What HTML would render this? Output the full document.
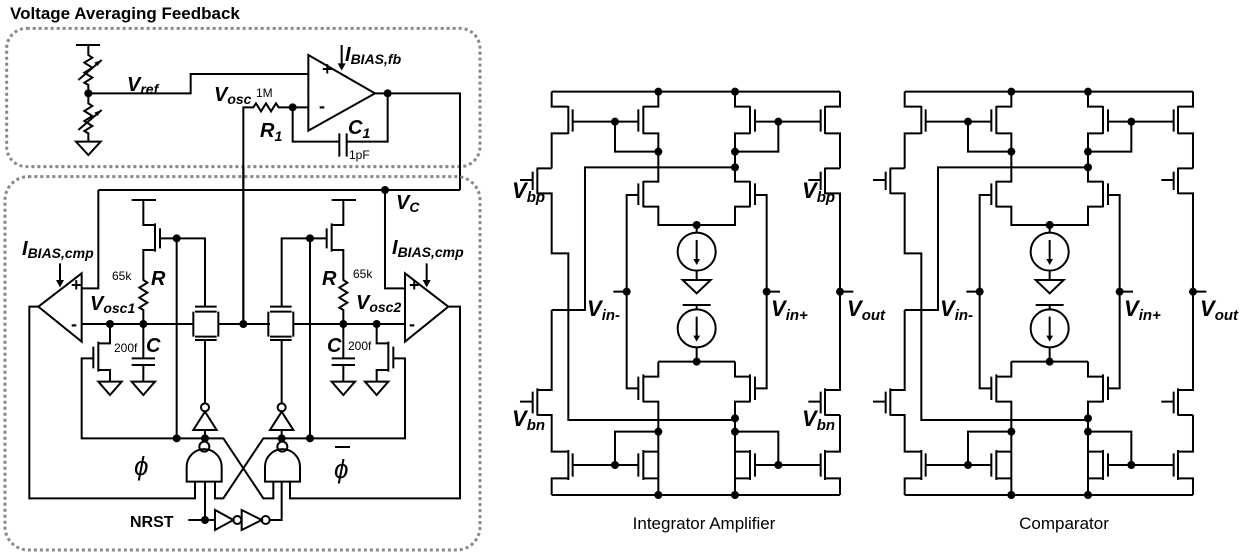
<!DOCTYPE html>
<html><head><meta charset="utf-8"><style>
html,body{margin:0;padding:0;background:#fff;}
svg{display:block}
text{font-family:"Liberation Sans",sans-serif;fill:#000}
.v{font-weight:bold;font-style:italic}
</style></head><body>
<svg width="1249" height="557" viewBox="0 0 1249 557" xmlns="http://www.w3.org/2000/svg">
<defs>
<g id="amp" fill="none" stroke="#000" stroke-width="6">
  <!-- rails -->
  <path d="M155,35 H1020 M155,1245 H1020"/>
  <!-- top PMOS -->
  <path d="M155,35 V80 H205 M205,78 V162 M218,88 V155 M218,125 H415 M205,160 H155 V265"/>
  <path d="M475,35 V80 H430 M430,78 V162 M415,88 V155 M430,160 H475 V305 H430"/>
  <path d="M345,125 V215 H475"/>
  <path d="M705,35 V80 H750 M750,78 V162 M765,88 V155 M765,125 H962 M750,160 H705 V305 H750"/>
  <path d="M1020,35 V80 H975 M975,78 V162 M962,88 V155 M975,160 H1020 V265"/>
  <path d="M835,125 V215 H705"/>
  <path d="M705,262 H255 V690 H155"/>
  <!-- Vbp PMOS -->
  <path d="M155,265 H112 M112,263 V342 M98,275 V330 M60,300 H98 M112,340 H155 V520 H205 V1020 H705"/>
  <path d="M1020,265 H975 M975,263 V342 M962,275 V330 M925,300 H962 M975,340 H1020 V930 H975"/>
  <!-- input PMOS pair -->
  <path d="M430,303 V382 M415,310 V375 M415,345 H380 V925 H415 M430,380 H475 V435 H705 V380 H750 M750,303 V382 M765,310 V375 M765,345 H800 V925 H765"/>
  <path d="M590,435 V458 M590,572 V600 M548,600 H632 L590,640 Z M548,675 H632 M590,675 V688 M590,802 V845"/>
  <circle cx="590" cy="515" r="57"/><circle cx="590" cy="745" r="57"/>
  <path d="M590,480 V550 M590,710 V780"/>
  <!-- input NMOS pair -->
  <path d="M475,845 H705 M475,845 V890 H430 M430,883 V967 M415,890 V960 M430,965 H475 V1245 M705,845 V890 H750 M750,883 V967 M765,890 V960 M750,965 H705 V1245"/>
  <!-- Vbn NMOS -->
  <path d="M155,690 V930 H112 M112,925 V1007 M98,935 V1000 M60,965 H98 M112,1005 H155 V1115 H205"/>
  <path d="M1020,1005 H975 M975,925 V1007 M962,935 V1000 M925,965 H962 M1020,1005 V1115 H975"/>
  <!-- bottom NMOS -->
  <path d="M205,1110 V1200 M218,1120 V1190 M218,1155 H415 M415,1120 V1190 M430,1110 V1200 M475,1055 H345 V1155 M475,1115 H430 M430,1195 H475 M205,1195 H155 V1245"/>
  <path d="M975,1110 V1200 M962,1120 V1190 M962,1155 H765 M765,1120 V1190 M750,1110 V1200 M705,1055 H835 V1155 M705,1115 H750 M750,1195 H705 M975,1195 H1020 V1245"/>
  <path d="M340,635 H380 M800,635 H840 M1020,635 H1060"/>
  <g fill="#000" stroke="none">
    <circle cx="475" cy="35" r="12"/><circle cx="705" cy="35" r="12"/>
    <circle cx="345" cy="125" r="12"/><circle cx="835" cy="125" r="12"/>
    <circle cx="475" cy="215" r="12"/><circle cx="705" cy="215" r="12"/><circle cx="705" cy="262" r="12"/>
    <circle cx="590" cy="435" r="12"/><circle cx="590" cy="845" r="12"/>
    <circle cx="380" cy="635" r="12"/><circle cx="800" cy="635" r="12"/><circle cx="1020" cy="635" r="12"/>
    <circle cx="705" cy="1015" r="12"/><circle cx="475" cy="1055" r="12"/><circle cx="705" cy="1055" r="12"/>
    <circle cx="345" cy="1155" r="12"/><circle cx="835" cy="1155" r="12"/>
    <circle cx="475" cy="1245" r="12"/><circle cx="705" cy="1245" r="12"/>
    <path d="M590,555 l-10,-18 h20 Z M590,785 l-10,-18 h20 Z"/>
  </g>
</g>
</defs>

<text x="10" y="19" font-size="17" font-weight="bold">Voltage Averaging Feedback</text>

<!-- top feedback section (zoom3 coords) -->
<g transform="scale(0.33333)" fill="none" stroke="#000" stroke-width="6">
  <rect x="20" y="85" width="1420" height="415" rx="60" stroke="#888" stroke-width="9" stroke-dasharray="9,9"/>
  <path d="M228,135 H300 M265,135 V165 l12,8 l-24,15 l24,15 l-24,15 l24,15 l-24,15 l12,7 V310 l12,8 l-24,15 l24,15 l-24,15 l24,15 l-24,15 l12,7 V425"/>
  <path d="M228,425 H302 L265,465 Z"/>
  <path d="M235,240 L305,180 M235,390 L305,330"/>
  <path d="M265,280 H572 V222 H925"/>
  <path d="M925,165 L1125,280 L925,392 Z"/>
  <path d="M1125,280 H1380 V570 M1163,280 V425 H1040 M1040,400 V470 M1018,400 V470 M1018,425 H878 V322 H925"/>
  <path d="M878,322 H836 l-8,-12 l-15,24 l-15,-24 l-15,24 l-15,-24 l-8,12 H730 V980"/>
  <path d="M1025,135 V200"/>
  <g fill="#000" stroke="none">
    <circle cx="265" cy="280" r="12"/><circle cx="878" cy="322" r="12"/><circle cx="1163" cy="280" r="12"/>
    <path d="M1025,212 l-12,-22 h24 Z M305,180 l-22,8 l10,10 Z M305,330 l-22,8 l10,10 Z"/>
  </g>
</g>
<text x="322" y="75" font-size="18" font-weight="bold">+</text>
<text x="319" y="112" font-size="18" font-weight="bold">-</text>
<text x="127" y="91" font-size="20" class="v">V<tspan font-size="14" dy="3">ref</tspan></text>
<text x="214" y="101" font-size="20" class="v">V<tspan font-size="14" dy="3">osc</tspan></text>
<text x="256" y="97" font-size="12">1M</text>
<text x="260" y="137" font-size="20" class="v">R<tspan font-size="14" dy="4">1</tspan></text>
<text x="348" y="134" font-size="20" class="v">C<tspan font-size="14" dy="4">1</tspan></text>
<text x="349" y="159" font-size="12">1pF</text>
<text x="345" y="61" font-size="20" class="v">I<tspan font-size="14" dy="3">BIAS,fb</tspan></text>

<!-- bottom oscillator section (zoom1 coords) -->
<g transform="translate(0,170) scale(0.33333)" fill="none" stroke="#000" stroke-width="6">
  <rect x="15" y="20" width="1425" height="1120" rx="70" stroke="#888" stroke-width="9" stroke-dasharray="9,9"/>
  <path d="M295,60 H1380 M295,60 V355 H245 M1155,60 V355 H1215"/>
  <path d="M245,310 L115,410 L245,515 Z M1215,310 L1345,410 L1215,515 Z"/>
  <path d="M180,280 V340 M1280,280 V340"/>
  <path d="M245,462 H580 M655,462 H810 M880,462 H1215 M730,462 V-10"/>
  <path d="M115,410 H88 V985 H585 V935 M1345,410 H1380 V985 H870 V935"/>
  <!-- left PMOS & R & C -->
  <path d="M395,90 H468 M430,90 V165 H465 M465,160 V245 M480,175 V235 M480,205 H615 V410 M465,240 H430 V330 l12,8 l-24,15 l24,15 l-24,15 l24,15 l-24,15 l12,7 V462"/>
  <path d="M430,462 V565 M395,565 H465 M395,585 H465 M430,585 V635 M395,635 H465 L430,675 Z"/>
  <path d="M330,462 V520 H295 M295,515 V605 M280,530 V595 M280,565 H245 V805 H670 L790,985 H820 V935 M295,600 H330 V635 M295,635 H365 L330,675 Z"/>
  <!-- right PMOS & R & C -->
  <path d="M995,90 H1068 M1030,90 V165 H995 M995,160 V245 M980,175 V235 M980,205 H845 V410 M995,240 H1030 V330 l12,8 l-24,15 l24,15 l-24,15 l24,15 l-24,15 l12,7 V462"/>
  <path d="M1030,462 V565 M995,565 H1065 M995,585 H1065 M1030,585 V635 M995,635 H1065 L1030,675 Z"/>
  <path d="M1130,462 V520 H1165 M1165,515 V605 M1180,530 V595 M1180,565 H1215 V805 H790 L670,985 H645 V935 M1165,600 H1130 V635 M1095,635 H1165 L1130,675 Z"/>
  <path d="M530,205 V805 M930,205 V805"/>
  <!-- pass gates -->
  <path d="M585,410 H650 M585,425 H650 M580,425 V500 M655,425 V500 M585,500 H650 M585,510 H650 M615,510 V700"/>
  <path d="M810,410 H875 M810,425 H875 M805,425 V500 M880,425 V500 M810,500 H875 M810,510 H875 M845,510 V700"/>
  <!-- inverters -->
  <path d="M580,780 H650 L615,725 Z M810,780 H880 L845,725 Z M615,780 V805 M845,780 V805"/>
  <circle cx="615" cy="712" r="12"/><circle cx="845" cy="712" r="12"/>
  <!-- NANDs -->
  <path d="M560,935 V890 A52,52 0 0 1 665,890 V935 Z M795,935 V890 A52,52 0 0 1 900,890 V935 Z"/>
  <circle cx="613" cy="830" r="15"/><circle cx="847" cy="830" r="15"/>
  <path d="M613,805 V815 M847,805 V815"/>
  <path d="M615,935 V1050 M565,1050 H645 M645,1020 V1080 L700,1050 Z M725,1020 V1080 L785,1050 Z M810,1050 H845 V935"/>
  <circle cx="712" cy="1050" r="12"/><circle cx="797" cy="1050" r="12"/>
  <g fill="#000" stroke="none">
    <circle cx="1155" cy="60" r="12"/><circle cx="330" cy="462" r="12"/><circle cx="430" cy="462" r="12"/>
    <circle cx="730" cy="462" r="12"/><circle cx="1030" cy="462" r="12"/><circle cx="1130" cy="462" r="12"/>
    <circle cx="530" cy="205" r="12"/><circle cx="930" cy="205" r="12"/>
    <circle cx="530" cy="805" r="12"/><circle cx="615" cy="805" r="12"/><circle cx="845" cy="805" r="12"/><circle cx="930" cy="805" r="12"/>
    <circle cx="615" cy="1050" r="12"/>
    <path d="M180,352 l-12,-22 h24 Z M1280,352 l-12,-22 h24 Z"/>
  </g>
</g>
<text x="71" y="291" font-size="18" font-weight="bold">+</text>
<text x="71" y="330" font-size="18" font-weight="bold">-</text>
<text x="409" y="291" font-size="18" font-weight="bold">+</text>
<text x="409" y="330" font-size="18" font-weight="bold">-</text>
<text x="22" y="255" font-size="20" class="v">I<tspan font-size="14" dy="3">BIAS,cmp</tspan></text>
<text x="392" y="254" font-size="20" class="v">I<tspan font-size="14" dy="3">BIAS,cmp</tspan></text>
<text x="90" y="310" font-size="20" class="v">V<tspan font-size="14" dy="3">osc1</tspan></text>
<text x="356" y="309" font-size="20" class="v">V<tspan font-size="14" dy="3">osc2</tspan></text>
<text x="112" y="280" font-size="12">65k</text>
<text x="353" y="278" font-size="12">65k</text>
<text x="151" y="285" font-size="20" class="v">R</text>
<text x="322" y="285" font-size="20" class="v">R</text>
<text x="114" y="352" font-size="12">200f</text>
<text x="348" y="350" font-size="12">200f</text>
<text x="146" y="352" font-size="20" class="v">C</text>
<text x="327" y="352" font-size="20" class="v">C</text>
<text x="396" y="209" font-size="20" class="v">V<tspan font-size="14" dy="3">C</tspan></text>
<text x="134" y="475" font-size="26" font-style="italic">ϕ</text>
<text x="334" y="478" font-size="26" font-style="italic">ϕ</text>
<path d="M335,447 H350" stroke="#000" stroke-width="2"/>
<text x="130" y="527" font-size="16" font-weight="bold">NRST</text>

<!-- amplifiers -->
<g transform="translate(500,80) scale(0.33333)"><use href="#amp"/></g>
<g transform="translate(853,80) scale(0.33333)"><use href="#amp"/></g>
<g class="v" font-size="22">
<text x="512" y="198">V<tspan font-size="15" dy="4">bp</tspan></text>
<text x="802" y="198">V<tspan font-size="15" dy="4">bp</tspan></text>
<text x="512" y="426">V<tspan font-size="15" dy="4">bn</tspan></text>
<text x="802" y="426">V<tspan font-size="15" dy="4">bn</tspan></text>
<text x="587" y="316">V<tspan font-size="15" dy="4">in-</tspan></text>
<text x="771" y="316">V<tspan font-size="15" dy="4">in+</tspan></text>
<text x="847" y="316">V<tspan font-size="15" dy="4">out</tspan></text>
<text x="940" y="316">V<tspan font-size="15" dy="4">in-</tspan></text>
<text x="1124" y="316">V<tspan font-size="15" dy="4">in+</tspan></text>
<text x="1200" y="316">V<tspan font-size="15" dy="4">out</tspan></text>
</g>
<text x="704" y="529" font-size="17" text-anchor="middle">Integrator Amplifier</text>
<text x="1064" y="529" font-size="17" text-anchor="middle">Comparator</text>
</svg>
</body></html>
